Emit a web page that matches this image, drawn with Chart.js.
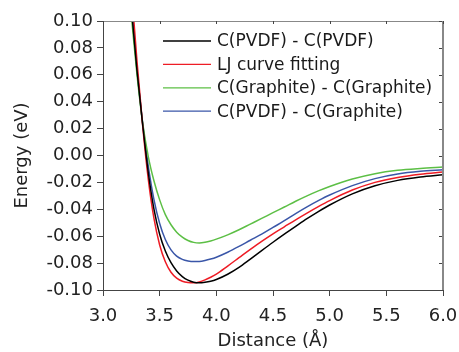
<!DOCTYPE html>
<html><head><meta charset="utf-8">
<script src="https://cdn.jsdelivr.net/npm/chart.js@4/dist/chart.umd.min.js"></script>
<style>html,body{margin:0;padding:0;background:#fff}#wrap{width:459px;height:352px;position:relative}</style>
</head><body><div id="wrap"><canvas id="c" width="459" height="352"></canvas></div>
<script>
const distances = [3.25,3.30,3.35,3.40,3.45,3.50,3.55,3.60,3.65,3.70,3.75,3.80,3.85,3.90,3.95,4.00,4.10,4.20,4.30,4.40,4.50,4.60,4.70,4.80,4.90,5.00,5.20,5.40,5.60,5.80,6.00];
const pvdfPvdf = [0.110,0.063,0.023,-0.013,-0.040,-0.0585,-0.0710,-0.0797,-0.0858,-0.0900,-0.0927,-0.0942,-0.0947,-0.0943,-0.0935,-0.0922,-0.0883,-0.0832,-0.0770,-0.0707,-0.0645,-0.0585,-0.0527,-0.0470,-0.0417,-0.0368,-0.0285,-0.0225,-0.0185,-0.0160,-0.0143];
const ljFit = [0.125,0.070,0.022,-0.018,-0.047,-0.0665,-0.0790,-0.0868,-0.0912,-0.0935,-0.0945,-0.0947,-0.0940,-0.0925,-0.0905,-0.0882,-0.0822,-0.0760,-0.0698,-0.0638,-0.0582,-0.0530,-0.0478,-0.0428,-0.0380,-0.0335,-0.0257,-0.0200,-0.0163,-0.0139,-0.0123];
const graphiteGraphite = [0.104,0.060,0.024,-0.001,-0.019,-0.033,-0.044,-0.0515,-0.0570,-0.0607,-0.0632,-0.0646,-0.0650,-0.0645,-0.0635,-0.0622,-0.0590,-0.0552,-0.0510,-0.0468,-0.0425,-0.0383,-0.0340,-0.0300,-0.0263,-0.0230,-0.0175,-0.0135,-0.0110,-0.0096,-0.0086];
const pvdfGraphite = [0.112,0.064,0.024,-0.008,-0.033,-0.0505,-0.0625,-0.0702,-0.0748,-0.0772,-0.0784,-0.0789,-0.0788,-0.0781,-0.0770,-0.0756,-0.0719,-0.0676,-0.0630,-0.0585,-0.0535,-0.0485,-0.0432,-0.0382,-0.0336,-0.0294,-0.0224,-0.0172,-0.0138,-0.0118,-0.0106];
const seriesLabels = ['C(PVDF) - C(PVDF)','LJ curve fitting','C(Graphite) - C(Graphite)','C(PVDF) - C(Graphite)'];
const seriesColors = ['#000000','#ee1c25','#5cbf45','#3a56a8'];
const xTicks = [3.0,3.5,4.0,4.5,5.0,5.5,6.0];
const yTicks = [-0.10,-0.08,-0.06,-0.04,-0.02,0.00,0.02,0.04,0.06,0.08,0.10];

const FONT = 'DejaVu Sans';
const seriesValues = [pvdfPvdf, ljFit, graphiteGraphite, pvdfGraphite];

const innerLegend = {
  id: 'innerLegend',
  afterDatasetsDraw(chart) {
    const ctx = chart.ctx;
    ctx.save();
    ctx.font = '17px "' + FONT + '"';
    ctx.textBaseline = 'middle';
    ctx.textAlign = 'left';
    chart.data.datasets.forEach((ds, i) => {
      const y = 41 + i * 23.4;
      ctx.strokeStyle = ds.borderColor;
      ctx.lineWidth = 1.3;
      ctx.beginPath(); ctx.moveTo(163, y); ctx.lineTo(211, y); ctx.stroke();
      ctx.fillStyle = '#1a1a1a';
      ctx.fillText(ds.label, 217, y + 1);
    });
    ctx.restore();
  }
};

const frame = {
  id: 'frame',
  afterDraw(chart) {
    const {ctx, chartArea: a, scales} = chart;
    ctx.save();
    ctx.strokeStyle = '#888';
    ctx.lineWidth = 1;
    ctx.beginPath(); ctx.moveTo(a.left, a.top + 0.5); ctx.lineTo(a.right, a.top + 0.5); ctx.stroke();
    ctx.lineWidth = 2;
    ctx.beginPath(); ctx.moveTo(a.right, a.top); ctx.lineTo(a.right, a.bottom); ctx.stroke();
    ctx.strokeStyle = '#444';
    ctx.lineWidth = 1;
    xTicks.forEach(v => {
      const x = Math.round(scales.x.getPixelForValue(v)) + 0.5;
      ctx.beginPath(); ctx.moveTo(x, a.top); ctx.lineTo(x, a.top + 3); ctx.stroke();
    });
    yTicks.forEach(v => {
      const y = Math.round(scales.y.getPixelForValue(v)) + 0.5;
      ctx.beginPath(); ctx.moveTo(a.right - 1, y); ctx.lineTo(a.right - 4, y); ctx.stroke();
    });
    ctx.restore();
  }
};

new Chart(document.getElementById('c'), {
  type: 'scatter',
  data: {
    datasets: seriesValues.map((vals, i) => ({
      label: seriesLabels[i],
      data: distances.map((d, j) => ({x: d, y: vals[j]})),
      showLine: true,
      borderColor: seriesColors[i],
      backgroundColor: seriesColors[i],
      borderWidth: 1.5,
      pointRadius: 0,
      cubicInterpolationMode: 'monotone'
    }))
  },
  options: {
    responsive: false,
    animation: false,
    layout: {padding: {top: 21, right: 16, left: 0, bottom: 0}},
    plugins: {legend: {display: false}, tooltip: {enabled: false}},
    scales: {
      x: {
        type: 'linear', min: 3, max: 6,
        afterBuildTicks: s => { s.ticks = xTicks.map(v => ({value: v})); },
        afterFit: s => { s.height = 62; s.paddingLeft = 0; s.paddingRight = 0; },
        ticks: {color: '#222', font: {family: FONT, size: 18}, padding: 10, maxRotation: 0,
          callback: v => Number(v).toFixed(1)},
        grid: {drawOnChartArea: false, tickLength: 6, color: '#444', tickColor: '#444'},
        border: {color: '#444', width: 1},
        title: {display: true, text: 'Distance (Å)', color: '#222', font: {family: FONT, size: 18, lineHeight: 1.2}, padding: {top: 0, bottom: 0}}
      },
      y: {
        type: 'linear', min: -0.1, max: 0.1,
        afterBuildTicks: s => { s.ticks = yTicks.map(v => ({value: v})); },
        afterFit: s => { s.width = 103; s.paddingTop = 0; s.paddingBottom = 0; },
        ticks: {color: '#222', font: {family: FONT, size: 18}, padding: 4,
          callback: v => Number(v).toFixed(2)},
        grid: {drawOnChartArea: false, tickLength: 6, color: '#444', tickColor: '#444'},
        border: {color: '#444', width: 1},
        title: {display: true, text: 'Energy (eV)', color: '#222', font: {family: FONT, size: 18, lineHeight: 1.2}, padding: {top: 12, bottom: 0}}
      }
    }
  },
  plugins: [innerLegend, frame]
});
</script></body></html>
